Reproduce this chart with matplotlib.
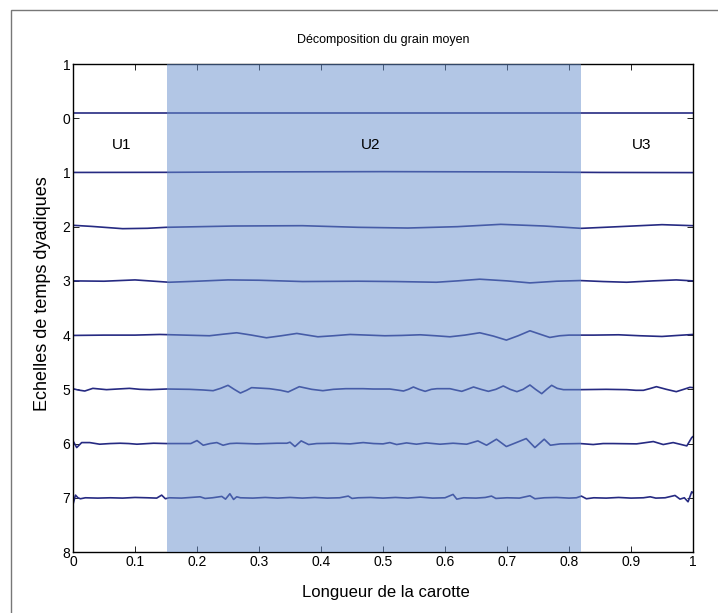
import numpy as np
import matplotlib.pyplot as plt
from matplotlib.patches import Rectangle

plt.rcParams['font.family'] = ['Liberation Sans', 'DejaVu Sans']

# scale levels (x = position along the core, y = level + detail)
x0 = [0.0, 1.0]
y0 = [-0.09, -0.09]

x1 = [0.0, 0.15, 0.3, 0.5, 0.7, 0.85, 1.0]
y1 = [1.0, 0.998, 0.99, 0.985, 0.99, 1.0, 1.003]

x2 = [0.0, 0.03, 0.08, 0.12, 0.15, 0.26, 0.37, 0.46, 0.54, 0.62, 0.69, 0.76, 0.82, 0.88, 0.95, 1.0]
y2 = [1.975, 1.995, 2.037, 2.03, 2.012, 1.988, 1.982, 2.012, 2.025, 2.0, 1.957, 1.988, 2.031,
      2.0, 1.963, 1.982]

x3 = [0.0, 0.05, 0.1, 0.155, 0.2, 0.25, 0.3, 0.37, 0.46, 0.52, 0.586, 0.62, 0.656, 0.7, 0.737,
      0.78, 0.818, 0.855, 0.893, 0.935, 0.973, 1.0]
y3 = [3.0, 3.006, 2.982, 3.025, 3.006, 2.982, 2.988, 3.012, 3.006, 3.012, 3.025, 3.0, 2.969,
      3.0, 3.037, 3.006, 2.994, 3.012, 3.025, 3.0, 2.982, 3.0]

x4 = [0.0, 0.05, 0.10, 0.14, 0.18, 0.22, 0.243, 0.264, 0.288, 0.312, 0.336, 0.361, 0.378, 0.395,
      0.42, 0.447, 0.475, 0.503, 0.53, 0.56, 0.585, 0.608, 0.632, 0.656, 0.678, 0.699, 0.718,
      0.737, 0.753, 0.769, 0.785, 0.80, 0.84, 0.88, 0.915, 0.95, 0.975, 1.0]
y4 = [4.006, 4.0, 4.0, 3.988, 4.0, 4.012, 3.982, 3.957, 4.0, 4.049, 4.012, 3.969, 4.0, 4.031,
      4.012, 3.988, 4.0, 4.012, 4.006, 3.994, 4.012, 4.031, 4.0, 3.957, 4.018, 4.092, 4.012,
      3.920, 3.982, 4.043, 4.012, 4.0, 4.0, 3.994, 4.012, 4.025, 4.006, 3.988]

x5 = [0.0, 0.008, 0.019, 0.032, 0.054, 0.072, 0.091, 0.108, 0.124, 0.151, 0.188, 0.21, 0.226,
      0.238, 0.25, 0.26, 0.27, 0.28, 0.288, 0.317, 0.335, 0.347, 0.356, 0.365, 0.385, 0.403,
      0.42, 0.44, 0.468, 0.484, 0.511, 0.522, 0.533, 0.541, 0.549, 0.558, 0.568, 0.578, 0.587,
      0.608, 0.617, 0.627, 0.636, 0.646, 0.658, 0.670, 0.682, 0.694, 0.705, 0.716, 0.726, 0.737,
      0.746, 0.756, 0.764, 0.772, 0.781, 0.791, 0.818, 0.86, 0.893, 0.908, 0.920, 0.93, 0.941,
      0.957, 0.973, 0.985, 0.995, 1.0]
y5 = [4.988, 5.012, 5.031, 4.982, 5.006, 4.994, 4.982, 5.0, 5.006, 4.994, 5.0, 5.012, 5.025,
      4.982, 4.926, 5.0, 5.068, 5.018, 4.969, 4.988, 5.018, 5.049, 5.0, 4.951, 5.0, 5.025,
      5.0, 4.988, 4.988, 4.994, 4.994, 5.012, 5.031, 5.0, 4.957, 5.0, 5.037, 5.0, 4.988,
      4.988, 5.012, 5.037, 5.0, 4.957, 5.0, 5.037, 5.0, 4.938, 5.0, 5.043, 5.0, 4.920,
      5.0, 5.080, 5.0, 4.926, 4.982, 5.006, 5.006, 5.0, 5.006, 5.018, 5.018, 4.988, 4.951,
      5.0, 5.043, 5.0, 4.963, 4.969]

x6 = [0.0, 0.006, 0.014, 0.027, 0.043, 0.06, 0.076, 0.09, 0.103, 0.13, 0.151, 0.178, 0.19, 0.2,
      0.21, 0.221, 0.232, 0.242, 0.253, 0.264, 0.28, 0.296, 0.329, 0.345, 0.35, 0.358, 0.368,
      0.38, 0.393, 0.42, 0.447, 0.468, 0.485, 0.5, 0.511, 0.522, 0.538, 0.554, 0.57, 0.592,
      0.613, 0.635, 0.653, 0.667, 0.683, 0.699, 0.715, 0.731, 0.745, 0.76, 0.77, 0.786, 0.818,
      0.839, 0.855, 0.871, 0.909, 0.936, 0.952, 0.968, 0.99, 0.998, 1.0]
y6 = [5.951, 6.074, 5.982, 5.982, 6.012, 6.0, 5.994, 6.0, 6.012, 5.994, 6.0, 6.0, 6.0, 5.945,
      6.031, 6.0, 5.982, 6.031, 6.0, 5.994, 6.0, 6.006, 5.994, 5.994, 5.975, 6.055, 5.951,
      6.018, 6.0, 5.994, 6.006, 5.982, 6.0, 6.006, 5.982, 6.018, 5.988, 6.012, 5.988, 6.012,
      5.994, 6.012, 5.951, 6.031, 5.920, 6.055, 5.982, 5.908, 6.074, 5.920, 6.031, 6.006, 6.0,
      6.018, 6.0, 6.0, 6.006, 5.963, 6.018, 5.982, 6.043, 5.889, 5.871]

x7 = [0.0, 0.004, 0.008, 0.012, 0.02, 0.04, 0.06, 0.08, 0.1, 0.12, 0.135, 0.143, 0.149, 0.155,
      0.175, 0.19, 0.205, 0.213, 0.225, 0.24, 0.246, 0.253, 0.259, 0.264, 0.27, 0.29, 0.31,
      0.33, 0.35, 0.37, 0.39, 0.41, 0.43, 0.444, 0.45, 0.46, 0.48, 0.5, 0.52, 0.54, 0.56, 0.58,
      0.6, 0.613, 0.619, 0.63, 0.65, 0.665, 0.675, 0.682, 0.7, 0.72, 0.737, 0.745, 0.76, 0.78,
      0.8, 0.812, 0.82, 0.828, 0.84, 0.86, 0.88, 0.9, 0.92, 0.931, 0.94, 0.955, 0.971, 0.979,
      0.986, 0.992, 0.998, 1.0]
y7 = [7.123, 6.951, 7.0, 7.018, 7.0, 7.006, 7.0, 7.006, 6.994, 7.0, 7.006, 6.951, 7.018, 7.0,
      7.006, 6.994, 6.982, 7.012, 7.0, 6.975, 7.025, 6.926, 7.031, 6.982, 7.0, 7.006, 6.994,
      7.006, 6.994, 7.006, 6.994, 7.006, 7.0, 6.969, 7.012, 7.0, 6.994, 7.006, 6.994, 7.006,
      6.988, 7.006, 7.0, 6.938, 7.025, 7.0, 7.006, 6.994, 6.969, 7.012, 7.0, 7.006, 6.963,
      7.018, 7.0, 6.994, 7.006, 7.0, 6.969, 7.018, 7.0, 7.006, 6.994, 7.006, 7.0, 6.982, 7.006,
      7.0, 6.957, 7.025, 7.0, 7.074, 6.889, 6.908]

levels = [(x0, y0), (x1, y1), (x2, y2), (x3, y3), (x4, y4), (x5, y5), (x6, y6), (x7, y7)]

# stratigraphic units
unit_names = ['U1', 'U2', 'U3']
unit_label_x = [0.079, 0.48, 0.917]
u2_start, u2_end = 0.152, 0.819

y_ticks = list(range(-1, 9))
y_tick_labels = ['1', '0', '1', '2', '3', '4', '5', '6', '7', '8']
x_ticks = [i / 10 for i in range(11)]
x_tick_labels = ['0', '0.1', '0.2', '0.3', '0.4', '0.5', '0.6', '0.7', '0.8', '0.9', '1']

fig = plt.figure(figsize=(7.18, 6.13), dpi=100)
ax = fig.add_axes([73 / 718, 61 / 613, 620 / 718, 488 / 613])

line_color = '#262a82'
for xs, ys in levels:
    ax.plot(xs, ys, color=line_color, lw=1.2, zorder=2)

# U2 band drawn on top, semi-transparent, like the original
ax.add_patch(Rectangle((u2_start, -1), u2_end - u2_start, 9, facecolor=(0.404, 0.56, 0.804),
                       alpha=0.5, edgecolor='none', zorder=3))

for name, ux in zip(unit_names, unit_label_x):
    ax.text(ux, 0.5, name, ha='center', va='center', fontsize=11, zorder=4)

ax.set_xlim(0, 1)
ax.set_ylim(8, -1)
ax.set_xticks(x_ticks)
ax.set_xticklabels(x_tick_labels)
ax.set_yticks(y_ticks)
ax.set_yticklabels(y_tick_labels)
ax.tick_params(direction='in', length=4, width=0.6, top=True, right=True,
               labelsize=10, pad=2, colors='black')
for sp in ax.spines.values():
    sp.set_linewidth(1.0)
    sp.set_color('black')

fig.text(383 / 718, 1 - 40 / 613, 'Décomposition du grain moyen', ha='center', va='center',
         fontsize=9)
fig.text(386 / 718, 1 - 593 / 613, 'Longueur de la carotte', ha='center', va='center',
         fontsize=12)
fig.text(43 / 718, 1 - 294 / 613, 'Echelles de temps dyadiques', ha='center', va='center',
         rotation=90, fontsize=13)

# figure frame (right and bottom sides fall outside the image)
fig.add_artist(Rectangle((11 / 718, -0.1), 1.2, 1 - 9.5 / 613 + 0.1, transform=fig.transFigure,
                         fill=False, edgecolor='#777777', lw=1.0))

fig.savefig('out.png', dpi=100)
